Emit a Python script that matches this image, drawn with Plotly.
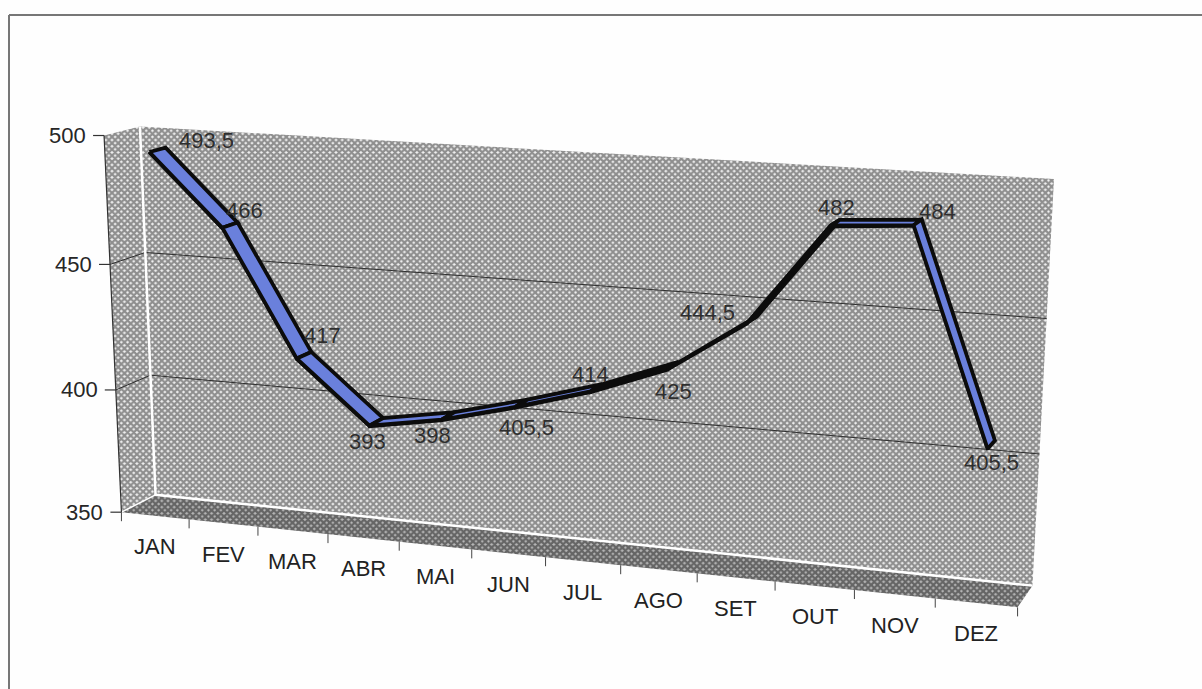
import numpy as np
import plotly.graph_objects as go

W, H = 1202, 689

# Dados do gráfico
meses = ["JAN", "FEV", "MAR", "ABR", "MAI", "JUN", "JUL", "AGO", "SET", "OUT", "NOV", "DEZ"]
valores = [493.5, 466, 417, 393, 398, 405.5, 414, 425, 444.5, 482, 484, 405.5]
rotulos = ["493,5", "466", "417", "393", "398", "405,5", "414", "425", "444,5", "482", "484", "405,5"]
marcas_eixo = [350, 400, 450, 500]

# Deslocamento de cada rótulo de valor em relação à fita, em pixels
desloc_rotulos = [(49, -9), (14, -15), (18, -20), (-9, 20), (-16, 20), (5, 24),
                  (-6, -13), (0, 26), (-45, -7), (1, -15), (20, -11), (0, 18)]

# Cantos da caixa 3D: (mês, profundidade, valor) -> posição na tela
CANTOS = [((0, 1, 500), (140, 127)), ((12, 1, 500), (1054, 179)),
          ((0, 1, 350), (155, 494)), ((12, 1, 350), (1033, 586)),
          ((0, 0, 500), (104, 135)), ((0, 0, 350), (122, 513)),
          ((12, 0, 350), (1017, 607))]
RIBBON_D = (0.27, 0.73)
ESPESSURA_FITA = 0.5


def normaliza(m, d, v):
    return np.array([m / 12, d, (v - 350) / 150, 1.0])


def calcula_camera():
    """Matriz de projeção perspectiva obtida por DLT a partir dos cantos."""
    linhas = []
    for (m, d, v), (px, py) in CANTOS:
        p = normaliza(m, d, v)
        px, py = px / W, py / H
        linhas.append(np.r_[p, np.zeros(4), -px * p])
        linhas.append(np.r_[np.zeros(4), p, -py * p])
    _, _, vt = np.linalg.svd(np.array(linhas))
    return vt[-1].reshape(3, 4)


CAM = calcula_camera()


def tela(m, d, v):
    q = CAM @ normaliza(m, d, v)
    return q[0] / q[2] * W, q[1] / q[2] * H


# Os eixos do Plotly ficam em unidades de mês e de valor
def eixo_x(px):
    return (px - 122) / 74.6


def eixo_y(py):
    return 350 + (513 - py) * 150 / 378


def proj(m, d, v):
    px, py = tela(m, d, v)
    return eixo_x(px), eixo_y(py)


def caminho(pontos):
    xy = [proj(*p) for p in pontos]
    return [a for a, _ in xy], [b for _, b in xy]


def poligono(pontos, **estilo):
    x, y = caminho(list(pontos) + [pontos[0]])
    return go.Scatter(x=x, y=y, mode="lines", fill="toself", hoverinfo="skip",
                      showlegend=False, **estilo)


def linha(pontos, cor, largura):
    x, y = caminho(pontos)
    return go.Scatter(x=x, y=y, mode="lines", line=dict(color=cor, width=largura),
                      hoverinfo="skip", showlegend=False)


trama_parede = dict(shape="x", size=4.4, solidity=0.75, fgcolor="#2c2c2c", bgcolor="#f0f0f0")
trama_piso = dict(shape="x", size=4.4, solidity=0.78, fgcolor="#121212", bgcolor="#b8b8b8")
sem_borda = dict(width=0, color="rgba(0,0,0,0)")

fig = go.Figure()

# Paredes e piso
fig.add_trace(poligono([(0, 0, 350), (0, 1, 350), (0, 1, 500), (0, 0, 500)],
                       fillpattern=trama_parede, line=sem_borda))
fig.add_trace(poligono([(0, 1, 350), (12, 1, 350), (12, 1, 500), (0, 1, 500)],
                       fillpattern=trama_parede, line=sem_borda))
fig.add_trace(poligono([(0, 0, 350), (12, 0, 350), (12, 1, 350), (0, 1, 350)],
                       fillpattern=trama_piso, line=sem_borda))

# Linhas de grade sobre as paredes
for v in marcas_eixo[1:-1]:
    fig.add_trace(linha([(0, 0, v), (0, 1, v), (12, 1, v)], "#2e2e2e", 1))

# Arestas brancas entre as faces
fig.add_trace(linha([(0, 1, 500), (0, 1, 350), (12, 1, 350)], "#ffffff", 2.5))
fig.add_trace(linha([(0, 0, 350), (0, 1, 350)], "#ffffff", 1.5))

# Eixo vertical com suas marcas
fig.add_trace(linha([(0, 0, 500), (0, 0, 350)], "#333333", 1.2))
for v in marcas_eixo:
    px, py = tela(0, 0, v)
    fig.add_trace(go.Scatter(x=[eixo_x(px - 11), eixo_x(px)], y=[eixo_y(py)] * 2, mode="lines",
                             line=dict(color="#333333", width=1.2), hoverinfo="skip", showlegend=False))

# Marcas do eixo dos meses
for i in range(13):
    px, py = tela(i, 0, 350)
    fig.add_trace(go.Scatter(x=[eixo_x(px)] * 2, y=[eixo_y(py), eixo_y(py + 9)], mode="lines",
                             line=dict(color="#444444", width=1), hoverinfo="skip", showlegend=False))

# Fita da série: face frontal escura e face superior azul em cada trecho
d0, d1 = RIBBON_D
for i in range(len(valores) - 1):
    a, b = valores[i], valores[i + 1]
    fig.add_trace(poligono([(i + .5, d0, a), (i + 1.5, d0, b),
                            (i + 1.5, d0, b - ESPESSURA_FITA), (i + .5, d0, a - ESPESSURA_FITA)],
                           fillcolor="#0c0c0c", line=dict(color="#0c0c0c", width=2.5)))
    fig.add_trace(poligono([(i + .5, d0, a), (i + 1.5, d0, b), (i + 1.5, d1, b), (i + .5, d1, a)],
                           fillcolor="#6a80dc", line=dict(color="#0c0c0c", width=3.8)))

anotacoes = []
for v in marcas_eixo:
    px, py = tela(0, 0, v)
    anotacoes.append(dict(x=eixo_x(px - 16), y=eixo_y(py), text=str(v), xanchor="right", yanchor="middle",
                          showarrow=False, font=dict(family="Liberation Sans", size=22, color="#262626")))
for i, nome in enumerate(meses):
    x, y = proj(i + .5, 0, 350)
    anotacoes.append(dict(x=x, y=y, text=nome, yshift=-31, showarrow=False,
                          font=dict(family="Liberation Sans", size=22, color="#222222")))
for i, texto in enumerate(rotulos):
    x, y = proj(i + .5, .5, valores[i])
    dx, dy = desloc_rotulos[i]
    anotacoes.append(dict(x=x, y=y, text=texto, xshift=dx, yshift=-dy, showarrow=False,
                          font=dict(family="Liberation Sans", size=22, color="#2e2e2e")))

# Moldura da página: só os lados superior e esquerdo
molduras = [dict(type="line", xref="paper", yref="paper", x0=9 / W, x1=1, y0=1 - 15 / H, y1=1 - 15 / H,
                 line=dict(color="#777777", width=2)),
            dict(type="line", xref="paper", yref="paper", x0=9 / W, x1=9 / W, y0=0, y1=1 - 15 / H,
                 line=dict(color="#777777", width=2))]

fig.update_layout(width=W, height=H, margin=dict(l=0, r=0, t=0, b=0),
                  paper_bgcolor="#fefefe", plot_bgcolor="#fefefe", showlegend=False,
                  annotations=anotacoes, shapes=molduras,
                  xaxis=dict(range=[eixo_x(0), eixo_x(W)], visible=False),
                  yaxis=dict(range=[eixo_y(H), eixo_y(0)], visible=False))
fig.write_html("out.html")
